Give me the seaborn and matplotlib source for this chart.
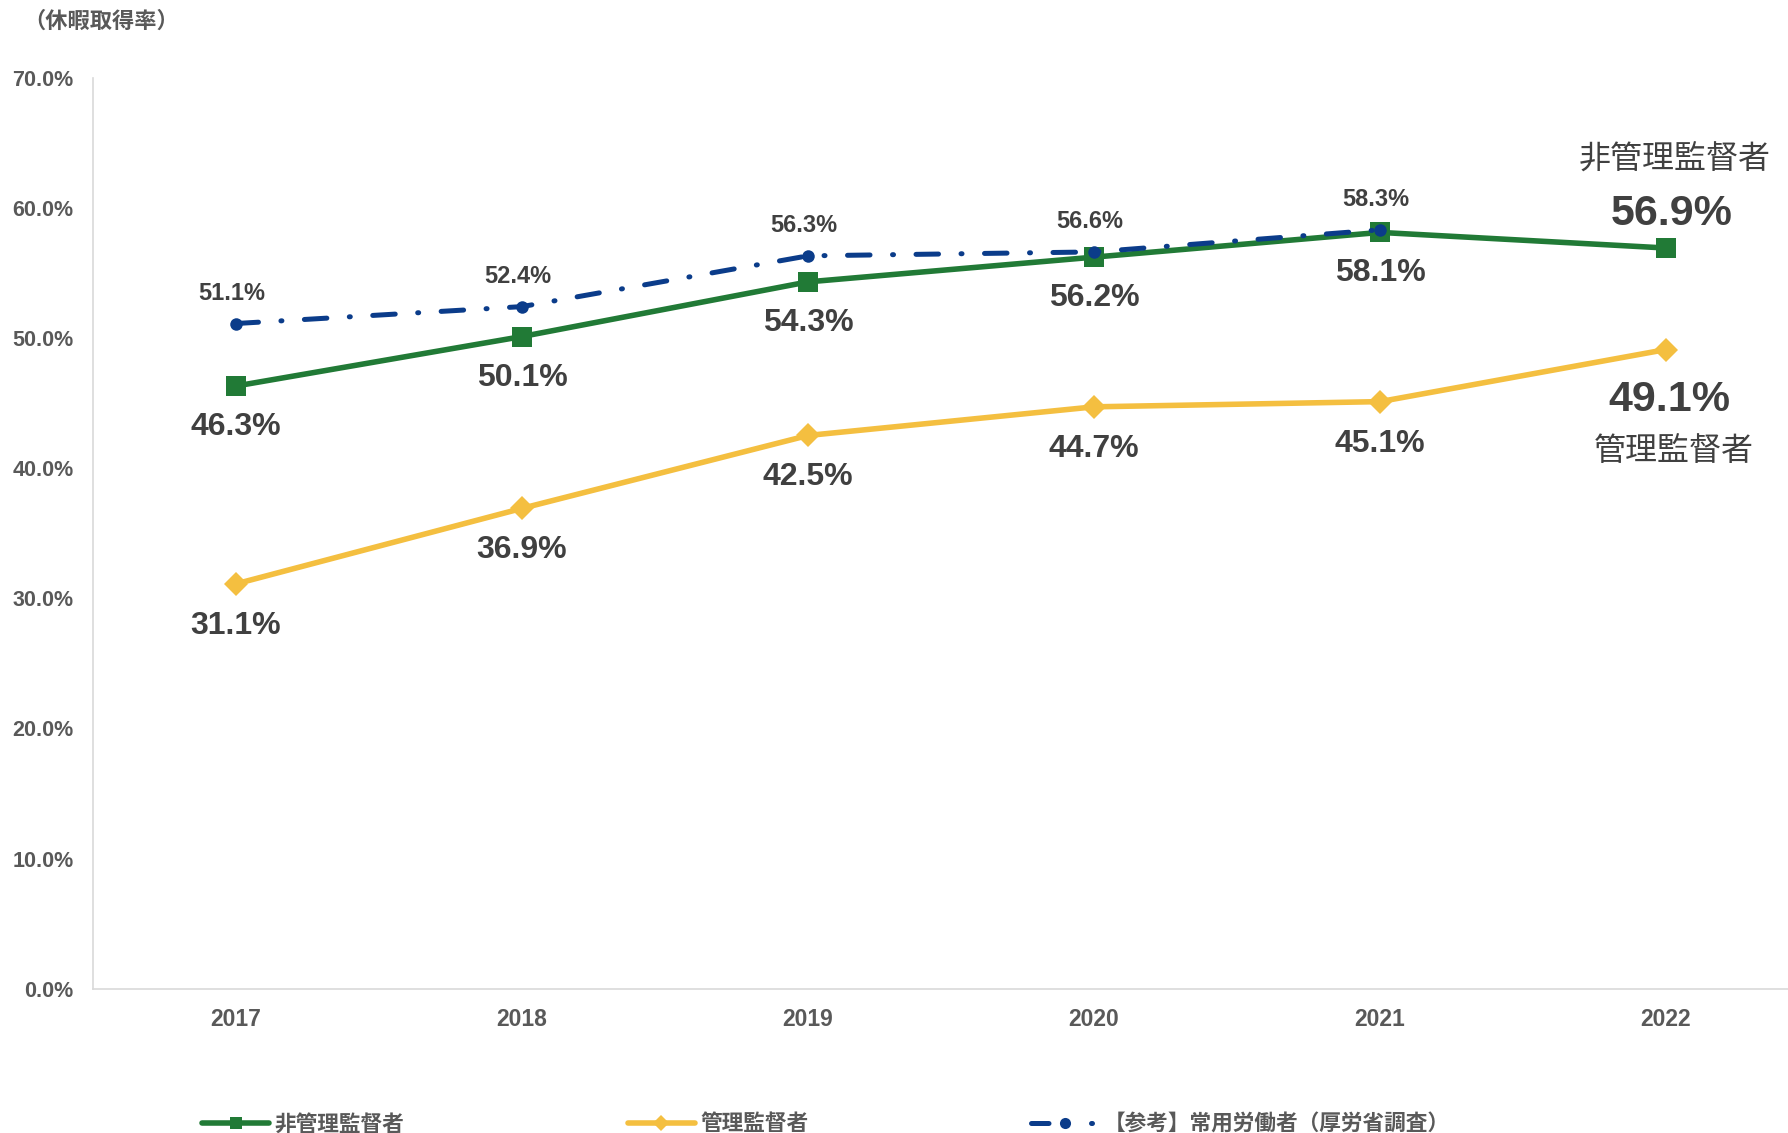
import matplotlib
matplotlib.use('Agg')
import matplotlib.pyplot as plt
import seaborn as sns
import pandas as pd

# data
years = [2017, 2018, 2019, 2020, 2021, 2022]
non_manager = [46.3, 50.1, 54.3, 56.2, 58.1, 56.9]
manager = [31.1, 36.9, 42.5, 44.7, 45.1, 49.1]
ref_years = [2017, 2018, 2019, 2020, 2021]
ref_workers = [51.1, 52.4, 56.3, 56.6, 58.3]

name_non = '非管理監督者'
name_mgr = '管理監督者'
name_ref = '【参考】常用労働者（厚労省調査）'

sns.set_style('white')
plt.rcParams['font.family'] = ['Liberation Sans', 'Noto Sans CJK JP']

GREEN = '#217A36'
YELLOW = '#F4BF40'
BLUE = '#0B3C8A'
TXT = '#404040'
TICK = '#595959'

df_non = pd.DataFrame({'year': years, 'rate': non_manager})
df_mgr = pd.DataFrame({'year': years, 'rate': manager})
df_ref = pd.DataFrame({'year': ref_years, 'rate': ref_workers})

fig = plt.figure(figsize=(17.88, 11.33), dpi=100)
ax = fig.add_axes([93 / 1788, 144.3 / 1133, 1716 / 1788, 911.2 / 1133])

sns.lineplot(data=df_non, x='year', y='rate', ax=ax, color=GREEN, lw=4, marker='s',
             markersize=14, markeredgewidth=0, label=name_non)
sns.lineplot(data=df_mgr, x='year', y='rate', ax=ax, color=YELLOW, lw=4, marker='D',
             markersize=12, markeredgewidth=0, label=name_mgr)
sns.lineplot(data=df_ref, x='year', y='rate', ax=ax, color=BLUE, lw=3.6, marker='o',
             markersize=9, markeredgewidth=0, label=name_ref,
             dashes=False, linestyle=(0, (4.5, 4.5, 0.2, 4.5)), dash_capstyle='round')

ax.set_xlim(2016.5, 2022.5)
ax.set_ylim(0, 70)
ax.set_yticks(range(0, 71, 10))
ax.set_yticklabels([f'{v:.1f}%' for v in range(0, 71, 10)])
ax.set_xticks(years)
ax.set_xticklabels([str(y) for y in years])
ax.tick_params(axis='both', length=0, colors=TICK)
ax.tick_params(axis='y', pad=14, labelsize=15.5)
ax.tick_params(axis='x', pad=14, labelsize=16.5)
for lab in ax.get_xticklabels() + ax.get_yticklabels():
    lab.set_fontweight('bold')
ax.set_xlabel('')
ax.set_ylabel('')
for s in ['top', 'right']:
    ax.spines[s].set_visible(False)
for s in ['left', 'bottom']:
    ax.spines[s].set_color('#D9D9D9')
    ax.spines[s].set_linewidth(1.2)

# data labels
for i, (x, v) in enumerate(zip(years, non_manager)):
    if i == len(years) - 1:
        ax.annotate(f'{v:.1f}%', (x, v), xytext=(6, 34), textcoords='offset pixels',
                    ha='center', va='center', fontsize=31, fontweight='bold', color=TXT)
        ax.annotate(name_non, (x, v), xytext=(9, 88), textcoords='offset pixels',
                    ha='center', va='center', fontsize=23, color=TXT,
                    family=['Noto Sans CJK JP'])
    else:
        ax.annotate(f'{v:.1f}%', (x, v), xytext=(0, -41), textcoords='offset pixels',
                    ha='center', va='center', fontsize=23, fontweight='bold', color=TXT)

for i, (x, v) in enumerate(zip(years, manager)):
    if i == len(years) - 1:
        ax.annotate(f'{v:.1f}%', (x, v), xytext=(3, -50), textcoords='offset pixels',
                    ha='center', va='center', fontsize=31, fontweight='bold', color=TXT)
        ax.annotate(name_mgr, (x, v), xytext=(8, -101), textcoords='offset pixels',
                    ha='center', va='center', fontsize=23, color=TXT,
                    family=['Noto Sans CJK JP'])
    else:
        ax.annotate(f'{v:.1f}%', (x, v), xytext=(0, -42), textcoords='offset pixels',
                    ha='center', va='center', fontsize=23, fontweight='bold', color=TXT)

for x, v in zip(ref_years, ref_workers):
    ax.annotate(f'{v:.1f}%', (x, v), xytext=(-4, 30), textcoords='offset pixels',
                ha='center', va='center', fontsize=17, fontweight='bold', color=TXT)

# axis caption
fig.text(23 / 1788, 1 - 21 / 1133, '（休暇取得率）', ha='left', va='center',
         fontsize=16, fontweight='bold', color=TICK, family=['Noto Sans CJK JP'])

# legend at bottom
ax.get_legend().remove()
h, l = ax.get_legend_handles_labels()
leg = fig.legend(h, l, loc='center', bbox_to_anchor=(0.462, 1 - 1124 / 1133), ncol=3,
                 frameon=False, handlelength=3.1, columnspacing=10.3, handletextpad=0.25,
                 prop={'family': ['Noto Sans CJK JP'], 'weight': 'bold', 'size': 15.6})
for t in leg.get_texts():
    t.set_color(TICK)
for ln in leg.get_lines():
    ln.set_markersize(8)
leg.get_lines()[2].set_linestyle((0, (3.5, 8.5, 0.2, 8)))

fig.savefig('out.png', dpi=100)
